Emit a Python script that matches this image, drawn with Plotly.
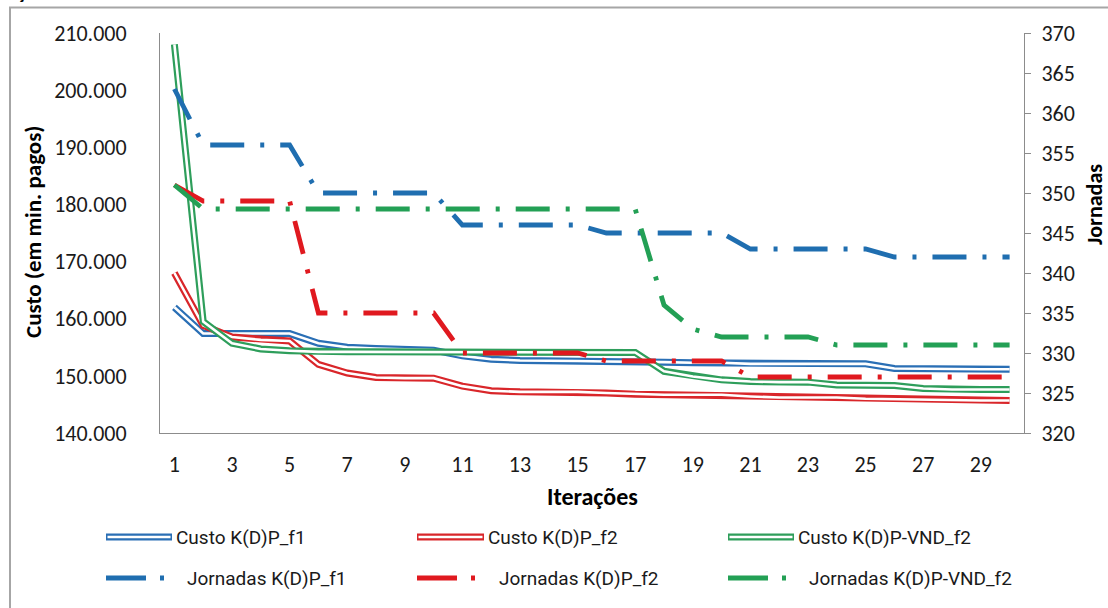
import plotly.graph_objects as go

iterations = list(range(1, 31))
tick_iter = list(range(1, 30, 2))

custo_f1 = [162000, 157400, 157400, 157400, 157400, 155700, 155000, 154800, 154700, 154500,
            153500, 152900, 152700, 152700, 152600, 152500, 152500, 152400, 152300, 152300,
            152100, 152100, 152100, 152100, 152100, 151300, 151200, 151200, 151150, 151150]
custo_f2 = [168000, 158800, 156800, 156300, 156100, 152000, 150500, 149700, 149600, 149600,
            148200, 147400, 147200, 147200, 147200, 147000, 146800, 146700, 146700, 146700,
            146400, 146200, 146200, 146200, 146000, 145900, 145800, 145700, 145700, 145700]
custo_vnd = [208000, 159500, 155700, 154700, 154400, 154200, 154200, 154200, 154200, 154200,
             154100, 154100, 154100, 154100, 154100, 154100, 154100, 150800, 149900, 149300,
             149000, 148900, 148900, 148400, 148400, 148300, 147800, 147600, 147600, 147600]

jorn_f1 = [363, 356, 356, 356, 356, 350, 350, 350, 350, 350,
           346, 346, 346, 346, 346, 345, 345, 345, 345, 345,
           343, 343, 343, 343, 343, 342, 342, 342, 342, 342]
jorn_f2 = [351, 349, 349, 349, 349, 335, 335, 335, 335, 335,
           330, 330, 330, 330, 330, 329, 329, 329, 329, 329,
           327, 327, 327, 327, 327, 327, 327, 327, 327, 327]
jorn_vnd = [351, 348, 348, 348, 348, 348, 348, 348, 348, 348,
            348, 348, 348, 348, 348, 348, 348, 336, 333, 332,
            332, 332, 332, 331, 331, 331, 331, 331, 331, 331]

names_custo = ["Custo K(D)P_f1", "Custo K(D)P_f2", "Custo K(D)P-VND_f2"]
names_jorn = ["Jornadas K(D)P_f1", "Jornadas K(D)P_f2", "Jornadas K(D)P-VND_f2"]

BLUE = "#2A6FB5"
RED = "#D9262A"
GREEN = "#2E9E5B"
J_BLUE = "#1F6EB0"
J_RED = "#E0191F"
J_GREEN = "#23A055"
colors_custo = [BLUE, RED, GREEN]
colors_jorn = [J_BLUE, J_RED, J_GREEN]
DASH = "34px,16px,4px,16px"

AXIS_GRAY = "#8C8C8C"
TICK_FONT = dict(family="Carlito, Lato, sans-serif", size=22, color="#1a1a1a")
LEG_FONT = dict(family="Roboto, sans-serif", size=19, color="#1a1a1a")
TITLE_FONT = dict(family="Carlito, Lato, sans-serif", size=23, color="#000000")

fig = go.Figure()

for vals, name, col in zip([custo_f1, custo_f2, custo_vnd], names_custo, colors_custo):
    fig.add_trace(go.Scatter(x=iterations, y=vals, mode="lines", name=name,
                             line=dict(color=col, width=7), showlegend=False, yaxis="y"))
    fig.add_trace(go.Scatter(x=iterations, y=vals, mode="lines", name=name,
                             line=dict(color="white", width=2.6), showlegend=False,
                             hoverinfo="skip", yaxis="y"))

for vals, name, col in zip([jorn_f1, jorn_f2, jorn_vnd], names_jorn, colors_jorn):
    fig.add_trace(go.Scatter(x=iterations, y=vals, mode="lines", name=name,
                             line=dict(color=col, width=4.8, dash=DASH),
                             showlegend=False, yaxis="y2"))

# geometry helpers (plot area in pixels)
L, R, T, B = 160, 1024, 33, 433
W, H = R - L, B - T


def px(x):
    return (x - L) / W


def py(y):
    return (B - y) / H


shapes = []
annotations = []

# outer chart border (only left/top visible)
shapes.append(dict(type="rect", xref="paper", yref="paper",
                   x0=px(10), x1=px(1130), y0=py(7.5), y1=py(640),
                   line=dict(color="#A6A6A6", width=2), fillcolor="rgba(0,0,0,0)", layer="below"))

# manual legend
col_x = [(106, 172), (417, 484), (728, 794)]
row1_y, row2_y = 537, 578
for i in range(3):
    x0, x1 = col_x[i]
    shapes.append(dict(type="line", xref="paper", yref="paper",
                       x0=px(x0), x1=px(x1), y0=py(row1_y), y1=py(row1_y),
                       line=dict(color=colors_custo[i], width=7)))
    shapes.append(dict(type="line", xref="paper", yref="paper",
                       x0=px(x0 + 1.5), x1=px(x1 - 1.5), y0=py(row1_y), y1=py(row1_y),
                       line=dict(color="white", width=2.6)))
    annotations.append(dict(text=names_custo[i], xref="paper", yref="paper",
                            x=px(x1 + 2), y=py(row1_y), xanchor="left", yanchor="middle",
                            showarrow=False, font=LEG_FONT))
    shapes.append(dict(type="line", xref="paper", yref="paper",
                       x0=px(x0), x1=px(x0 + 60), y0=py(row2_y), y1=py(row2_y),
                       line=dict(color=colors_jorn[i], width=5, dash="40px,14px,4px,100px")))
    annotations.append(dict(text=names_jorn[i], xref="paper", yref="paper",
                            x=px(x1 + 13), y=py(row2_y), xanchor="left", yanchor="middle",
                            showarrow=False, font=LEG_FONT))

# axis titles
annotations.append(dict(text="<b>Custo (em min. pagos)</b>", xref="paper", yref="paper",
                        x=px(33), y=py(232), textangle=-90, showarrow=False,
                        xanchor="center", yanchor="middle", font=TITLE_FONT))
annotations.append(dict(text="<b>Jornadas</b>", xref="paper", yref="paper",
                        x=px(1094), y=py(205), textangle=-90, showarrow=False,
                        xanchor="center", yanchor="middle", font=dict(TITLE_FONT, size=22)))
annotations.append(dict(text="<b>Iterações</b>", xref="paper", yref="paper",
                        x=px(592), y=py(497), showarrow=False,
                        xanchor="center", yanchor="middle", font=dict(TITLE_FONT, size=24)))
annotations.append(dict(text="<b>ç</b>", xref="paper", yref="paper",
                        x=px(21), y=py(-8), showarrow=False,
                        xanchor="center", yanchor="middle", font=dict(TITLE_FONT, size=20)))

fig.update_layout(
    width=1108, height=608,
    margin=dict(l=L, r=1108 - R, t=T, b=608 - B),
    paper_bgcolor="white", plot_bgcolor="white",
    separators=",.",
    showlegend=False,
    xaxis=dict(range=[0.5, 30.5], tickvals=tick_iter, ticktext=[str(v) for v in tick_iter],
               showline=True, linecolor=AXIS_GRAY, linewidth=1, showgrid=False, zeroline=False,
               ticks="", tickfont=TICK_FONT, ticklabelstandoff=12),
    yaxis=dict(range=[140000, 210000], dtick=10000, tickformat=",d",
               showline=True, linecolor=AXIS_GRAY, linewidth=1, showgrid=False, zeroline=False,
               ticks="", tickfont=TICK_FONT, ticklabelstandoff=28),
    yaxis2=dict(range=[320, 370], dtick=5, overlaying="y", side="right",
                showline=True, linecolor=AXIS_GRAY, linewidth=1, showgrid=False, zeroline=False,
                ticks="outside", ticklen=6, tickcolor=AXIS_GRAY, tickfont=TICK_FONT,
                ticklabelstandoff=6),
    shapes=shapes,
    annotations=annotations,
)

fig.write_html("out.html", config={"displayModeBar": False},
               post_script="document.body.style.margin='0';")
